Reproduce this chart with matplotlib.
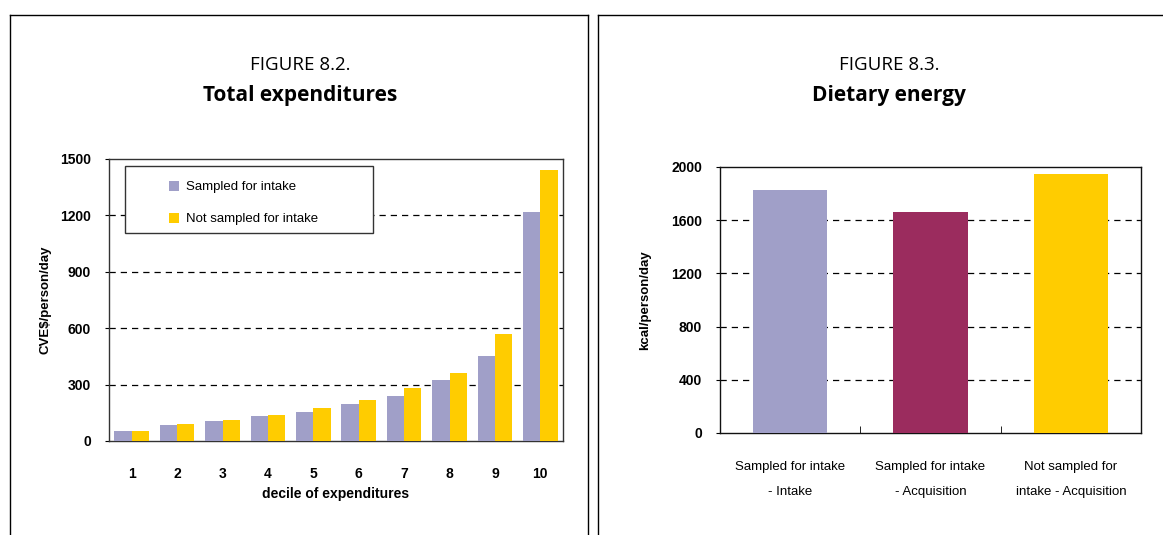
import matplotlib
matplotlib.use("Agg")
import matplotlib.pyplot as plt
import numpy as np
from matplotlib.lines import Line2D
from matplotlib.patches import Rectangle

# Figure 8.2 - total expenditures by decile
deciles = ["1", "2", "3", "4", "5", "6", "7", "8", "9", "10"]
sampled = [52, 84, 105, 131, 153, 195, 238, 323, 451, 1219]
not_sampled = [52, 89, 110, 137, 174, 217, 281, 361, 569, 1443]
left_yticks = [0, 300, 600, 900, 1200, 1500]

# Figure 8.3 - dietary energy
energy_labels = ["Sampled for intake\n- Intake", "Sampled for intake\n- Acquisition",
                 "Not sampled for\nintake - Acquisition"]
energy_values = [1830, 1665, 1951]
right_yticks = [0, 400, 800, 1200, 1600, 2000]

PURPLE = "#a09fc8"
YELLOW = "#ffcc00"
MAROON = "#9b2c5e"

narrow = ["Liberation Sans", "DejaVu Sans"]
title_font = ["Open Sans", "DejaVu Sans"]

W, H = 1163, 535
fig = plt.figure(figsize=(W / 100, H / 100), dpi=100)

# panel frames (pixel coords -> figure fraction)
def px_line(x0, y0, x1, y1):
    fig.add_artist(Line2D([x0 / W, x1 / W], [1 - y0 / H, 1 - y1 / H],
                          color="black", lw=1.0, transform=fig.transFigure))

px_line(10, 15, 588, 15)
px_line(10, 15, 10, 535)
px_line(588, 15, 588, 535)
px_line(598, 15, 1163, 15)
px_line(598, 15, 598, 535)

# titles
fig.text(300 / W, 1 - 65 / H, "FIGURE 8.2.", ha="center", va="center", fontsize=13.5, family=title_font)
fig.text(300 / W, 1 - 96 / H, "Total expenditures", ha="center", va="center", fontsize=15,
         fontweight="bold", family=title_font)
fig.text(889 / W, 1 - 65 / H, "FIGURE 8.3.", ha="center", va="center", fontsize=13.5, family=title_font)
fig.text(889 / W, 1 - 96 / H, "Dietary energy", ha="center", va="center", fontsize=15,
         fontweight="bold", family=title_font)

# ---- left chart ----
ax1 = fig.add_axes([109 / W, 1 - 441 / H, 454 / W, 282 / H])
x = np.arange(1, len(deciles) + 1)
bw = 0.38
ax1.bar(x - bw / 2, sampled, bw, color=PURPLE, label="Sampled for intake", zorder=3)
ax1.bar(x + bw / 2, not_sampled, bw, color=YELLOW, label="Not sampled for intake", zorder=3)
ax1.set_xlim(0.5, len(deciles) + 0.5)
ax1.set_ylim(0, 1500)
ax1.set_yticks(left_yticks)
ax1.set_xticks(x)
ax1.set_xticklabels(deciles)
for v in left_yticks[1:-1]:
    ax1.axhline(v, color="black", lw=0.9, ls=(0, (5, 4)), zorder=1)
ax1.tick_params(axis="x", length=0, pad=19)
ax1.tick_params(axis="y", direction="out", length=3, pad=10)
for lab in ax1.get_xticklabels() + ax1.get_yticklabels():
    lab.set_fontfamily(narrow)
    lab.set_fontweight("bold")
    lab.set_fontsize(10)
ax1.set_ylabel("CVE$/person/day", fontsize=9.5, fontweight="bold", family=narrow, va="center")
ax1.yaxis.set_label_coords(-0.14, 0.5)
ax1.set_xlabel("decile of expenditures", fontsize=10, fontweight="bold", family=narrow, va="center")
ax1.xaxis.set_label_coords(0.5, -0.188)
for s in ax1.spines.values():
    s.set_color("#333333")
    s.set_linewidth(1.0)

# legend: white box with a frame, entries set in from the left like the original
ax1.add_patch(Rectangle((0.035, 0.738), 0.546, 0.237, transform=ax1.transAxes,
                        facecolor="white", edgecolor="#333333", lw=1.0, zorder=4))
leg = ax1.legend(loc="upper left", bbox_to_anchor=(0.105, 0.965), frameon=False,
                 handlelength=0.8, handleheight=0.8, labelspacing=1.45, borderpad=0.4,
                 handletextpad=0.55, prop={"family": narrow, "size": 9.5})
leg.set_zorder(5)

# ---- right chart ----
ax2 = fig.add_axes([720 / W, 1 - 433 / H, 421 / W, 266 / H])
xr = np.arange(len(energy_labels))
ax2.bar(xr, energy_values, 0.53, color=[PURPLE, MAROON, YELLOW], zorder=3)
ax2.set_xlim(-0.5, len(energy_labels) - 0.5)
ax2.set_ylim(0, 2000)
ax2.set_yticks(right_yticks)
ax2.set_xticks(xr)
ax2.set_xticklabels(energy_labels)
ax2.set_xticks(xr[:-1] + 0.5, minor=True)
ax2.tick_params(axis="x", which="major", length=0, pad=20)
ax2.tick_params(axis="x", which="minor", direction="in", length=5)
ax2.tick_params(axis="y", direction="out", length=3, pad=10)
for v in right_yticks[1:-1]:
    ax2.axhline(v, color="black", lw=0.9, ls=(0, (5, 4)), zorder=1)
for lab in ax2.get_yticklabels():
    lab.set_fontfamily(narrow)
    lab.set_fontweight("bold")
    lab.set_fontsize(10)
for lab in ax2.get_xticklabels():
    lab.set_fontfamily(narrow)
    lab.set_fontsize(9.5)
    lab.set_linespacing(2.45)
ax2.set_ylabel("kcal/person/day", fontsize=9.5, fontweight="bold", family=narrow, va="center")
ax2.yaxis.set_label_coords(-0.178, 0.5)
for s in ax2.spines.values():
    s.set_color("#111111")
    s.set_linewidth(1.0)

fig.savefig("out.png", dpi=100)
